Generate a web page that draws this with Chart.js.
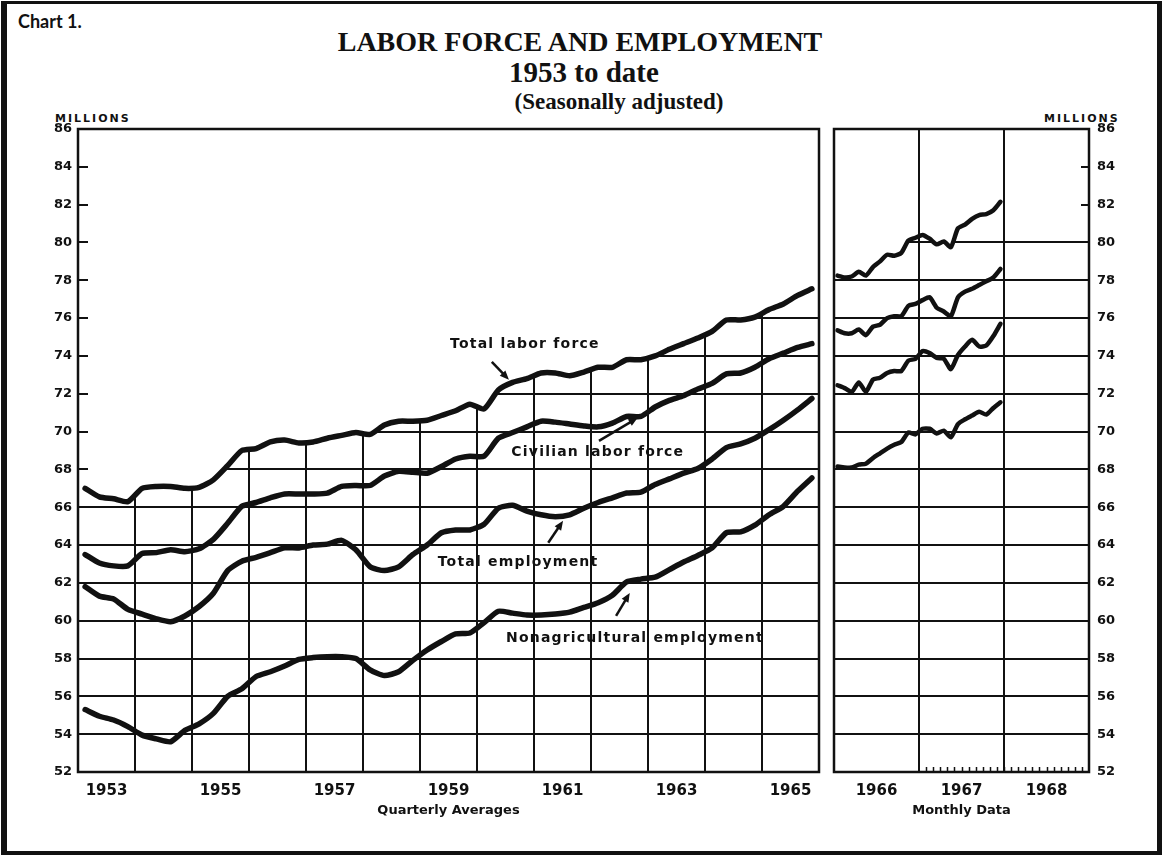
<!DOCTYPE html>
<html>
<head>
<meta charset="utf-8">
<title>Labor Force and Employment</title>
<script src="https://cdn.jsdelivr.net/npm/chart.js@4.4.1/dist/chart.umd.min.js"></script>
<style>
    html, body { margin: 0; padding: 0; background: #fff; }
    #page { position: relative; width: 1164px; height: 857px; overflow: hidden; background: #fff; color: #111; }
    #frame { position: absolute; left: 1px; top: 1px; width: 1161px; height: 854px; box-sizing: border-box;
             border-style: solid; border-color: #111; border-width: 3px 5px 4px 6px; }
    .txt { position: absolute; white-space: nowrap; line-height: 1; }
    #chartNo { left: 18px; top: 10px; font: bold 18px Lato, 'DejaVu Sans', sans-serif; }
    .serif { font-family: 'Liberation Serif', 'Times New Roman', serif; font-weight: bold; text-align: center; }
    #title { left: 280px; width: 600px; top: 28px; font-size: 28px; }
    #sub1 { left: 384px; width: 400px; top: 58px; font-size: 29px; }
    #sub2 { left: 419px; width: 400px; top: 90px; font-size: 23px; }
    .units { top: 112px; font: bold 11px 'DejaVu Sans', sans-serif; letter-spacing: 2px; }
    #unitsLeft { left: 55px; }
    #unitsRight { left: 1044px; }
    canvas { position: absolute; top: 0; }
    #quarterly { left: 0; }
    #monthly { left: 790px; }
</style>
</head>
<body>
<div id="page">
    <div id="frame"></div>
    <div class="txt" id="chartNo">Chart 1.</div>
    <div class="txt serif" id="title">LABOR FORCE AND EMPLOYMENT</div>
    <div class="txt serif" id="sub1">1953 to date</div>
    <div class="txt serif" id="sub2">(Seasonally adjusted)</div>
    <div class="txt units" id="unitsLeft">MILLIONS</div>
    <div class="txt units" id="unitsRight">MILLIONS</div>
    <canvas id="quarterly" width="832" height="830"></canvas>
    <canvas id="monthly" width="374" height="830"></canvas>
</div>

<script>
    // Quarterly averages, 1953 Q1 .. 1965 Q4 (millions, seasonally adjusted)
    var quarterYears = [1953, 1954, 1955, 1956, 1957, 1958, 1959, 1960, 1961, 1962, 1963, 1964, 1965];
    var quarterYearLabels = [1953, 1955, 1957, 1959, 1961, 1963, 1965];

    var totalLaborQ = [67.0, 66.55, 66.45, 66.3, 67.0, 67.1, 67.1, 67.0, 67.05, 67.45,
        68.2, 69.0, 69.1, 69.45, 69.55, 69.4, 69.45, 69.65, 69.8, 69.95,
        69.85, 70.35, 70.55, 70.55, 70.6, 70.85, 71.1, 71.45, 71.2, 72.2,
        72.6, 72.8, 73.1, 73.1, 72.95, 73.15, 73.4, 73.4, 73.8, 73.8,
        74.0, 74.35, 74.65, 74.95, 75.3, 75.9, 75.9, 76.05, 76.45, 76.75,
        77.2, 77.55];
    var civilianLaborQ = [63.5, 63.05, 62.9, 62.9, 63.55, 63.6, 63.75, 63.65, 63.8, 64.3,
        65.15, 66.05, 66.25, 66.5, 66.7, 66.7, 66.7, 66.75, 67.1, 67.15,
        67.15, 67.65, 67.9, 67.85, 67.8, 68.15, 68.55, 68.7, 68.7, 69.65,
        69.95, 70.25, 70.55, 70.5, 70.4, 70.3, 70.25, 70.45, 70.8, 70.8,
        71.3, 71.65, 71.9, 72.25, 72.55, 73.05, 73.1, 73.4, 73.85, 74.15,
        74.45, 74.65];
    var totalEmpQ = [61.8, 61.3, 61.15, 60.6, 60.35, 60.1, 59.95, 60.25, 60.75, 61.45,
        62.65, 63.15, 63.35, 63.6, 63.85, 63.85, 64.0, 64.05, 64.25, 63.75,
        62.85, 62.65, 62.85, 63.5, 64.0, 64.65, 64.8, 64.8, 65.1, 65.95,
        66.1, 65.8, 65.6, 65.5, 65.6, 65.95, 66.25, 66.5, 66.75, 66.8,
        67.2, 67.5, 67.8, 68.05, 68.55, 69.15, 69.35, 69.65, 70.1, 70.6,
        71.15, 71.75];
    var nonagEmpQ = [55.3, 54.95, 54.75, 54.4, 53.95, 53.75, 53.6, 54.2, 54.55, 55.1,
        56.0, 56.4, 57.05, 57.3, 57.6, 57.95, 58.05, 58.1, 58.1, 58.0,
        57.4, 57.1, 57.3, 57.9, 58.45, 58.9, 59.3, 59.35, 59.9, 60.5,
        60.4, 60.3, 60.3, 60.35, 60.45, 60.7, 60.95, 61.35, 62.05, 62.2,
        62.3, 62.7, 63.1, 63.45, 63.85, 64.65, 64.7, 65.05, 65.6, 66.05,
        66.85, 67.55];

    // Monthly data, Jan 1966 .. Dec 1967
    var monthYears = [1966, 1967, 1968];
    var monthYearLabels = [1966, 1967, 1968];

    var totalLaborM = [78.25, 78.15, 78.2, 78.45, 78.25, 78.7, 79.0, 79.35, 79.3, 79.45, 80.1, 80.25,
        80.4, 80.2, 79.9, 80.05, 79.75, 80.75, 80.95, 81.25, 81.45, 81.5, 81.7, 82.15];
    var civilianLaborM = [75.35, 75.2, 75.2, 75.4, 75.1, 75.55, 75.65, 76.0, 76.1, 76.1, 76.65, 76.75,
        76.95, 77.1, 76.55, 76.35, 76.1, 77.1, 77.4, 77.55, 77.75, 77.95, 78.15, 78.6];
    var totalEmpM = [72.45, 72.3, 72.1, 72.6, 72.1, 72.75, 72.85, 73.1, 73.2, 73.2, 73.75, 73.85,
        74.25, 74.15, 73.9, 73.85, 73.3, 74.05, 74.5, 74.85, 74.5, 74.55, 75.05, 75.7];
    var nonagEmpM = [68.15, 68.1, 68.1, 68.25, 68.3, 68.6, 68.85, 69.1, 69.3, 69.45, 69.95, 69.85,
        70.15, 70.15, 69.9, 70.05, 69.7, 70.4, 70.65, 70.85, 71.05, 70.9, 71.25, 71.55];

    // Value axis (both panels)
    var yMin = 52, yMax = 86, yStep = 2;

    // Series labels drawn on the quarterly panel (placed in data units)
    var quarterNotes = [
        {text: 'Total labor force', x: 1960.84, y: 74.6, from: [1960.26, 73.69], to: [1960.56, 72.74]},
        {text: 'Civilian labor force', x: 1962.12, y: 68.88, from: [1962.14, 69.51], to: [1962.82, 70.73]},
        {text: 'Total employment', x: 1960.72, y: 63.11, from: [1961.25, 64.12], to: [1961.51, 65.28]},
        {text: 'Nonagricultural employment', x: 1962.77, y: 59.09, from: [1962.44, 60.25], to: [1962.68, 61.47]}
    ];

    var ink = '#111';
    var sans = "'DejaVu Sans', sans-serif";

    // turn a list of values into {x, y} points, x = middle of the period in years
    function toPoints(values, startYear, perYear) {
        return values.map(function (v, i) {
            return {x: startYear + (i + 0.5) / perYear, y: v};
        });
    }

    // Grid that only shows below the top curve, frame, inner ticks and notes
    var panelGrid = {
        id: 'panelGrid',
        beforeDatasetsDraw: function (chart, args, opts) {
            var ctx = chart.ctx, area = chart.chartArea;
            var xs = chart.scales.x, ys = chart.scales.y;
            var top = chart.getDatasetMeta(0).data;
            var last = top[top.length - 1];
            var v, px;

            ctx.save();
            ctx.strokeStyle = ink;
            ctx.lineWidth = opts.gridWidth;

            // region under the top series
            ctx.beginPath();
            ctx.moveTo(area.left, top[0].y);
            top.forEach(function (p) { ctx.lineTo(p.x, p.y); });
            if (opts.openRight) {
                ctx.lineTo(last.x, area.top);
                ctx.lineTo(area.right, area.top);
            } else {
                ctx.lineTo(area.right, last.y);
            }
            ctx.lineTo(area.right, area.bottom);
            ctx.lineTo(area.left, area.bottom);
            ctx.closePath();

            ctx.save();
            ctx.clip();
            ctx.beginPath();
            for (v = yMin + yStep; v <= opts.gridMax; v += yStep) {
                px = Math.round(ys.getPixelForValue(v));
                ctx.moveTo(area.left, px);
                ctx.lineTo(area.right, px);
            }
            if (opts.clipVertical) {
                opts.years.slice(1).forEach(function (yr) {
                    px = Math.round(xs.getPixelForValue(yr));
                    ctx.moveTo(px, area.top);
                    ctx.lineTo(px, area.bottom);
                });
            }
            ctx.stroke();
            ctx.restore();

            if (!opts.clipVertical) {
                ctx.beginPath();
                opts.years.slice(1).forEach(function (yr) {
                    px = Math.round(xs.getPixelForValue(yr));
                    ctx.moveTo(px, area.top);
                    ctx.lineTo(px, area.bottom);
                });
                ctx.stroke();
            }
            ctx.restore();
        },
        afterDatasetsDraw: function (chart, args, opts) {
            var ctx = chart.ctx, area = chart.chartArea;
            var xs = chart.scales.x, ys = chart.scales.y;
            var v, px, k;

            ctx.save();
            ctx.strokeStyle = ink;
            ctx.fillStyle = ink;

            // frame
            ctx.lineWidth = opts.frameWidth;
            ctx.strokeRect(area.left, area.top, area.right - area.left, area.bottom - area.top);

            // value ticks, pointing into the panel
            ctx.lineWidth = opts.gridWidth;
            ctx.beginPath();
            for (v = yMin + yStep; v < yMax; v += yStep) {
                px = Math.round(ys.getPixelForValue(v));
                if (opts.tickSide === 'left') {
                    ctx.moveTo(area.left, px);
                    ctx.lineTo(area.left + opts.tickLength, px);
                } else {
                    ctx.moveTo(area.right, px);
                    ctx.lineTo(area.right - opts.tickLength, px);
                }
            }
            ctx.stroke();

            // monthly marks along the bottom
            if (opts.minorFrom) {
                ctx.lineWidth = 1.5;
                ctx.beginPath();
                for (k = 1; k < (opts.minorTo - opts.minorFrom) * 12; k++) {
                    px = Math.round(xs.getPixelForValue(opts.minorFrom + k / 12)) + 0.5;
                    ctx.moveTo(px, area.bottom);
                    ctx.lineTo(px, area.bottom - 5);
                }
                ctx.stroke();
            }

            // series names with arrows
            (opts.notes || []).forEach(function (n) {
                var x1 = xs.getPixelForValue(n.from[0]), y1 = ys.getPixelForValue(n.from[1]);
                var x2 = xs.getPixelForValue(n.to[0]), y2 = ys.getPixelForValue(n.to[1]);
                var ang = Math.atan2(y2 - y1, x2 - x1);
                ctx.lineWidth = 2.5;
                ctx.beginPath();
                ctx.moveTo(x1, y1);
                ctx.lineTo(x2 - 6 * Math.cos(ang), y2 - 6 * Math.sin(ang));
                ctx.stroke();
                ctx.beginPath();
                ctx.moveTo(x2, y2);
                ctx.lineTo(x2 - 10 * Math.cos(ang - 0.4), y2 - 10 * Math.sin(ang - 0.4));
                ctx.lineTo(x2 - 10 * Math.cos(ang + 0.4), y2 - 10 * Math.sin(ang + 0.4));
                ctx.closePath();
                ctx.fill();

                ctx.font = 'bold 14px ' + sans;
                ctx.letterSpacing = '1.2px';
                ctx.textAlign = 'center';
                ctx.textBaseline = 'middle';
                ctx.fillText(n.text, xs.getPixelForValue(n.x), ys.getPixelForValue(n.y));
            });
            ctx.restore();
        }
    };

    function seriesSet(values, startYear, perYear, width) {
        return {
            data: toPoints(values, startYear, perYear),
            borderColor: ink,
            borderWidth: width,
            pointRadius: 0,
            tension: 0.2,
            borderCapStyle: 'round',
            borderJoinStyle: 'round',
            fill: false
        };
    }

    function yearAxis(years, labels, offsetPx, title) {
        return {
            type: 'linear',
            min: years[0],
            max: years[years.length - 1] + 1,
            grid: {display: false, drawTicks: false},
            border: {display: false},
            ticks: {
                stepSize: 1,
                autoSkip: false,
                maxRotation: 0,
                padding: 10,
                labelOffset: offsetPx,
                color: ink,
                font: {family: sans, size: 15, weight: 'bold'},
                callback: function (value) {
                    return labels.indexOf(value) >= 0 ? String(value) : '';
                }
            },
            title: {
                display: true,
                text: title,
                color: ink,
                font: {family: sans, size: 13, weight: 'bold'},
                padding: {top: 0, bottom: 12}
            },
            afterFit: function (scale) { scale.height = 58; }
        };
    }

    function valueAxis(position, width) {
        return {
            position: position,
            min: yMin,
            max: yMax,
            grid: {display: false, drawTicks: false},
            border: {display: false},
            ticks: {
                stepSize: yStep,
                padding: position === 'left' ? 6 : 8,
                color: ink,
                font: {family: sans, size: 13, weight: 'bold'}
            },
            afterFit: function (scale) { scale.width = width; }
        };
    }

    var baseOptions = {
        responsive: false,
        animation: false,
        devicePixelRatio: 1,
        events: []
    };

    // Quarterly panel
    var quarterlyChart = new Chart(document.getElementById('quarterly'), {
        type: 'line',
        data: {
            datasets: [
                seriesSet(totalLaborQ, quarterYears[0], 4, 5.5),
                seriesSet(civilianLaborQ, quarterYears[0], 4, 5.5),
                seriesSet(totalEmpQ, quarterYears[0], 4, 5.5),
                seriesSet(nonagEmpQ, quarterYears[0], 4, 5.5)
            ]
        },
        options: Object.assign({}, baseOptions, {
            layout: {padding: {left: 0, top: 129, right: 13, bottom: 0}},
            plugins: {
                legend: {display: false},
                tooltip: {enabled: false},
                panelGrid: {
                    years: quarterYears, gridMax: yMax, clipVertical: true, openRight: false,
                    gridWidth: 2, frameWidth: 2.5, tickSide: 'left', tickLength: 10,
                    notes: quarterNotes
                }
            },
            scales: {
                x: yearAxis(quarterYears, quarterYearLabels, 28.5, 'Quarterly Averages'),
                y: valueAxis('left', 78)
            }
        }),
        plugins: [panelGrid]
    });

    // Monthly panel
    var monthlyChart = new Chart(document.getElementById('monthly'), {
        type: 'line',
        data: {
            datasets: [
                seriesSet(totalLaborM, monthYears[0], 12, 4.5),
                seriesSet(civilianLaborM, monthYears[0], 12, 4.5),
                seriesSet(totalEmpM, monthYears[0], 12, 4.5),
                seriesSet(nonagEmpM, monthYears[0], 12, 4.5)
            ]
        },
        options: Object.assign({}, baseOptions, {
            layout: {padding: {left: 44, top: 129, right: 0, bottom: 0}},
            plugins: {
                legend: {display: false},
                tooltip: {enabled: false},
                panelGrid: {
                    years: monthYears, gridMax: 80, clipVertical: false, openRight: true,
                    gridWidth: 2, frameWidth: 2.5, tickSide: 'right', tickLength: 8,
                    minorFrom: 1967, minorTo: 1969
                }
            },
            scales: {
                x: yearAxis(monthYears, monthYearLabels, 42.5, 'Monthly Data'),
                y: valueAxis('right', 75)
            }
        }),
        plugins: [panelGrid]
    });
</script>
</body>
</html>
